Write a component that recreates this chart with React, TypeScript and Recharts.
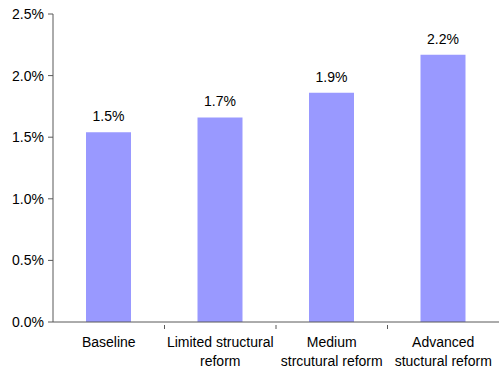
import { BarChart, Bar, XAxis, YAxis, LabelList } from 'recharts'

const categories = [
  'Baseline',
  'Limited structural\nreform',
  'Medium\nstrcutural reform',
  'Advanced\nstuctural reform',
]
const growth = [1.54, 1.66, 1.86, 2.17]
const yTicks = [0, 0.5, 1.0, 1.5, 2.0, 2.5]

const data = categories.map((name, i) => ({ name, value: growth[i] }))

const FONT = 'Liberation Sans, Arial, sans-serif'
const AXIS = '#595959'

// category label, plus a tick mark on the right edge of each band (except the last)
const CategoryTick = (props: any) => {
  const { x, y, payload, index } = props
  const lines = String(payload.value).split('\n')
  const half = payload.offset || 0
  return (
    <g>
      {index < categories.length - 1 && (
        <line x1={x + half} y1={y - 5} x2={x + half} y2={y - 1} stroke={AXIS} />
      )}
      <text x={x} y={y + 17} textAnchor="middle" fill="#000" fontSize={14} fontFamily={FONT}>
        {lines.map((l, i) => (
          <tspan key={i} x={x} dy={i === 0 ? 0 : 19}>
            {l}
          </tspan>
        ))}
      </text>
    </g>
  )
}

export default function App() {
  return (
    <div style={{ position: 'absolute', left: 0, top: 0, background: '#fff' }}>
      <BarChart
        width={499}
        height={369}
        data={data}
        margin={{ top: 14, right: 0, bottom: 0, left: 0 }}
      >
        <XAxis
          dataKey="name"
          height={47}
          interval={0}
          axisLine={{ stroke: AXIS }}
          tickLine={false}
          tick={<CategoryTick />}
        />
        <YAxis
          width={53}
          domain={[0, 2.5]}
          ticks={yTicks}
          interval={0}
          tickSize={5}
          tickMargin={4}
          axisLine={{ stroke: AXIS }}
          tickLine={{ stroke: AXIS }}
          tickFormatter={(v: number) => `${v.toFixed(1)}%`}
          tick={{ fill: '#000', fontSize: 14, fontFamily: FONT }}
        />
        <Bar dataKey="value" fill="#9999FF" barSize={45} isAnimationActive={false}>
          <LabelList
            dataKey="value"
            position="top"
            offset={11}
            formatter={(v: number) => `${v.toFixed(1)}%`}
            style={{ fill: '#000', fontSize: 14, fontFamily: FONT }}
          />
        </Bar>
      </BarChart>
    </div>
  )
}
